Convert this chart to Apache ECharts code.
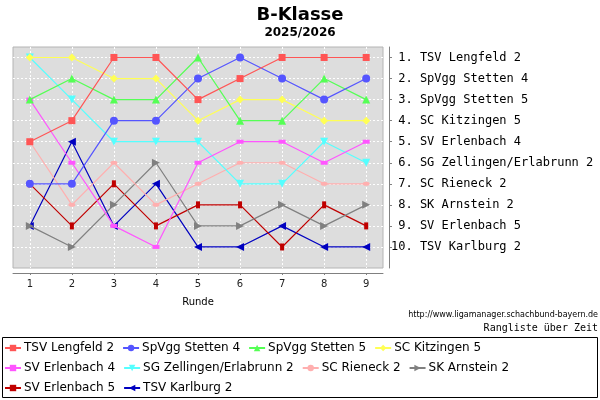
<!DOCTYPE html>
<html>
<head>
<meta charset="utf-8">
<title>B-Klasse</title>
<script src="https://cdn.jsdelivr.net/npm/echarts@6/dist/echarts.min.js"></script>
<style>
    html, body { margin: 0; padding: 0; background: #fff; }
    #main { width: 600px; height: 400px; }
</style>
</head>
<body>
<div id="main"></div>
<script>
    // Runden und Tabellenplatz je Runde
    var rounds = [1, 2, 3, 4, 5, 6, 7, 8, 9];
    var ranks = [1, 2, 3, 4, 5, 6, 7, 8, 9, 10];
    var rankLabels = [' 1. TSV Lengfeld 2', ' 2. SpVgg Stetten 4', ' 3. SpVgg Stetten 5', ' 4. SC Kitzingen 5',
        ' 5. SV Erlenbach 4', ' 6. SG Zellingen/Erlabrunn 2', ' 7. SC Rieneck 2', ' 8. SK Arnstein 2',
        ' 9. SV Erlenbach 5', '10. TSV Karlburg 2'];

    var teams = ['TSV Lengfeld 2', 'SpVgg Stetten 4', 'SpVgg Stetten 5', 'SC Kitzingen 5', 'SV Erlenbach 4',
        'SG Zellingen/Erlabrunn 2', 'SC Rieneck 2', 'SK Arnstein 2', 'SV Erlenbach 5', 'TSV Karlburg 2'];

    var lengfeld2   = [5, 4, 1, 1, 3, 2, 1, 1, 1];
    var stetten4    = [7, 7, 4, 4, 2, 1, 2, 3, 2];
    var stetten5    = [3, 2, 3, 3, 1, 4, 4, 2, 3];
    var kitzingen5  = [1, 1, 2, 2, 4, 3, 3, 4, 4];
    var erlenbach4  = [3, 6, 9, 10, 6, 5, 5, 6, 5];
    var zellingen2  = [1, 3, 5, 5, 5, 7, 7, 5, 6];
    var rieneck2    = [5, 8, 6, 8, 7, 6, 6, 7, 7];
    var arnstein2   = [9, 10, 8, 6, 9, 9, 8, 9, 8];
    var erlenbach5  = [7, 9, 7, 9, 8, 8, 10, 8, 9];
    var karlburg2   = [9, 5, 9, 7, 10, 10, 9, 10, 10];

    var values = [lengfeld2, stetten4, stetten5, kitzingen5, erlenbach4,
        zellingen2, rieneck2, arnstein2, erlenbach5, karlburg2];

    var colors = ['#ff5555', '#5555ff', '#55ff55', '#ffff55', '#ff55ff',
        '#55ffff', '#ffafaf', '#808080', '#c00000', '#0000c0'];
    var symbols = ['rect', 'circle', 'triangle', 'diamond', 'rect',
        'triangle', 'circle', 'triangle', 'rect', 'triangle'];
    var sizes = [7, 8, 8, 8, [7, 4], 8, [7, 4], 8, [4, 7], 8];
    var rotates = [0, 0, 0, 0, 0, 180, 0, -90, 0, 90];

    var series = teams.map(function (name, i) {
        return {
            name: name,
            type: 'line',
            data: rounds.map(function (r, k) { return [r, values[i][k]]; }),
            symbol: symbols[i],
            symbolSize: sizes[i],
            symbolRotate: rotates[i],
            showAllSymbol: true,
            z: 20 - i,
            lineStyle: { color: colors[i], width: 1.2 },
            itemStyle: { color: colors[i] },
            emphasis: { disabled: true }
        };
    });

    function legendRow(names, top) {
        return {
            data: names,
            left: 4,
            top: top,
            orient: 'horizontal',
            itemWidth: 16,
            itemHeight: 8,
            itemGap: 8,
            padding: 0,
            selectedMode: false,
            textStyle: { fontFamily: 'DejaVu Sans', fontSize: 12, color: '#000', padding: [0, 0, 0, -2] }
        };
    }

    var myChart = echarts.init(document.getElementById('main'));
    var option = {
        animation: false,
        color: colors,
        title: [{
            text: 'B-Klasse',
            subtext: '2025/2026',
            left: 'center',
            top: 1,
            itemGap: 3,
            textStyle: { fontFamily: 'DejaVu Sans', fontSize: 18, fontWeight: 'bold', color: '#000' },
            subtextStyle: { fontFamily: 'DejaVu Sans', fontSize: 12, fontWeight: 'bold', color: '#000' }
        }, {
            text: 'http://www.ligamanager.schachbund-bayern.de',
            right: 2,
            top: 311,
            padding: 0,
            textStyle: { fontFamily: 'DejaVu Sans', fontSize: 8, fontWeight: 'normal', color: '#000' }
        }, {
            text: 'Rangliste über Zeit',
            right: 2,
            top: 323,
            padding: 0,
            textStyle: { fontFamily: 'DejaVu Sans Mono', fontSize: 10, fontWeight: 'normal', color: '#000' }
        }],
        legend: [
            legendRow(teams.slice(0, 4), 342),
            legendRow(teams.slice(4, 8), 362),
            legendRow(teams.slice(8, 10), 382)
        ],
        graphic: [{
            type: 'rect',
            shape: { x: 2.5, y: 337.5, width: 595, height: 60 },
            style: { fill: 'none', stroke: '#000', lineWidth: 1 },
            silent: true
        }],
        grid: {
            left: 13,
            right: 217,
            top: 47,
            bottom: 132,
            show: true,
            backgroundColor: '#dddddd',
            borderColor: '#b4b4b4',
            borderWidth: 1
        },
        xAxis: {
            type: 'value',
            min: 0.6,
            max: 9.4,
            offset: 5,
            name: 'Runde',
            nameLocation: 'middle',
            nameGap: 24,
            nameTextStyle: { fontFamily: 'DejaVu Sans', fontSize: 10, color: '#000' },
            axisLine: { lineStyle: { color: '#808080' } },
            axisTick: { show: true, length: 2, customValues: rounds, lineStyle: { color: '#808080' } },
            axisLabel: { customValues: rounds, fontFamily: 'DejaVu Sans', fontSize: 10, color: '#222', margin: 6 },
            splitLine: { show: true, lineStyle: { color: '#ffffff', type: [2, 2], width: 1 } }
        },
        yAxis: {
            type: 'value',
            inverse: true,
            min: 0.5,
            max: 11,
            position: 'right',
            offset: 6,
            axisLine: { show: true, lineStyle: { color: '#808080' } },
            axisTick: { show: true, length: 3, customValues: ranks, lineStyle: { color: '#808080' } },
            axisLabel: {
                customValues: ranks,
                margin: 2,
                fontFamily: 'DejaVu Sans Mono',
                fontSize: 12,
                color: '#000',
                formatter: function (v) { return rankLabels[v - 1]; }
            },
            splitLine: { show: true, lineStyle: { color: '#ffffff', type: [2, 2], width: 1 } }
        },
        series: series
    };
    myChart.setOption(option);
</script>
</body>
</html>
